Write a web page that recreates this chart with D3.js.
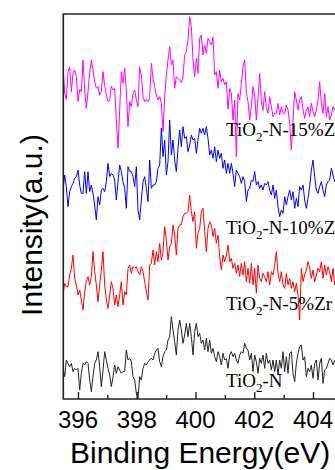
<!DOCTYPE html>
<html><head><meta charset="utf-8">
<script src="https://cdn.jsdelivr.net/npm/d3@7"></script>
<style>html,body{margin:0;padding:0;background:#fff;overflow:hidden}</style>
</head><body><svg id="c" width="335" height="470"></svg>
<script>
// ---- data ----
const energyStart = 395.49;   // eV, first sample
const energyStep = 0.05674;   // eV, acquisition step
const xTickLabels = [396, 398, 400, 402, 404];
const xMinorTicks = [397, 399, 401, 403, 405];
const seriesNames = ["TiO2-N", "TiO2-N-5%Zr", "TiO2-N-10%Zr", "TiO2-N-15%Zr"];
const seriesOffsets = [0, 175, 400, 700];
const seriesColors = ["#222222", "#ff0000", "#0000ff", "#ff00ff"];

const tio2N = [125,100,150,140,130,140,115,125,120,125,60,110,140,135,145,140,90,55,100,140,150,175,130,70,120,175,150,125,105,70,100,135,110,130,120,110,115,115,180,150,155,145,100,90,50,35,100,90,125,140,135,145,150,155,150,170,180,185,145,130,160,175,180,210,220,280,240,205,165,240,270,240,200,225,260,220,260,220,165,235,260,220,
230,200,210,180,215,175,210,170,185,160,145,175,160,135,170,150,155,125,165,175,160,170,150,140,165,175,170,200,185,180,150,170,115,165,145,110,155,140,165,125,170,140,150,120,150,115,150,105,150,125,175,115,160,110,170,175,110,85,140,170,190,195,150,160,100,125,115,135,95,140,150,90,140,155,80,120,125,140,155,150,135,150,140];

const tio2N5Zr = [170,205,195,195,230,250,290,220,200,170,185,155,125,180,210,225,200,225,300,240,200,150,200,245,300,200,155,130,170,210,190,140,170,135,170,210,140,180,170,250,260,235,255,250,255,240,230,255,240,210,180,155,260,265,305,260,300,270,325,275,300,375,335,275,315,325,380,350,290,370,380,380,405,415,415,420,470,420,390,420,310,355,
370,420,430,360,300,370,390,380,345,370,325,350,285,245,290,270,290,320,270,280,250,265,235,260,225,265,230,270,210,250,205,265,200,250,175,260,220,210,235,225,210,240,200,240,230,260,300,235,210,240,200,190,235,200,220,190,210,180,205,170,95,250,210,230,245,270,250,220,245,210,230,250,240,270,220,260,230,255,240,210,250,200,230];

const tio2N10Zr = [260,305,270,210,255,270,280,295,300,320,275,250,250,315,250,315,255,275,250,215,170,240,215,260,265,255,285,340,300,310,305,290,230,285,335,315,285,265,205,330,315,315,300,270,330,200,170,230,285,300,265,225,350,265,275,275,285,325,335,446,360,410,305,345,470,365,410,350,315,385,440,390,450,415,420,375,395,425,410,415,370,410,
445,430,445,425,450,415,365,380,355,390,345,380,355,370,325,350,310,340,310,340,310,270,320,310,300,280,300,285,225,260,265,290,285,315,275,285,265,275,260,280,275,285,260,245,275,235,260,210,180,200,190,240,215,240,260,230,255,205,235,210,270,260,275,230,205,235,270,320,350,300,260,250,270,285,260,240,275,285,290,325,305,285,300];

const tio2N15Zr = [335,250,232,315,330,255,310,320,300,225,262,255,350,260,205,255,310,350,320,285,265,270,245,255,315,275,245,225,228,272,260,265,170,85,200,315,280,325,260,150,225,210,250,260,230,210,328,305,240,225,232,225,238,340,295,270,245,230,240,220,135,240,305,350,390,335,350,265,300,295,290,282,300,365,375,410,480,450,350,300,355,310,
415,425,365,395,370,415,405,395,418,305,315,265,320,285,295,275,285,202,265,250,170,230,60,250,230,280,330,350,250,225,170,210,270,245,170,240,310,225,200,255,205,190,240,210,180,190,190,220,185,210,190,190,215,200,160,80,170,255,230,200,230,240,200,175,200,210,180,220,195,180,200,230,285,220,190,250,180,210,170,185,210,200,210];

const seriesValues = [tio2N, tio2N5Zr, tio2N10Zr, tio2N15Zr];

// ---- layout ----
const svg = d3.select("#c");
const L = 63.3, T = 14, B = 399;
const pxPerEv = 29.375;
const x = d3.scaleLinear().domain([395.5, 406]).range([L, L + 10.5 * pxPerEv]);
const y = d3.scaleLinear().domain([0, 1200]).range([410, 10]);
const R = x(406);

svg.append("defs").append("clipPath").attr("id", "clip")
  .append("rect").attr("x", L).attr("y", T).attr("width", R - L).attr("height", B - T);

const line = d3.line().x(d => x(d.e)).y(d => y(d.v));
const g = svg.append("g").attr("clip-path", "url(#clip)");
seriesValues.forEach((vals, si) => {
  const pts = vals.map((v, i) => ({ e: energyStart + i * energyStep, v: v + seriesOffsets[si] }));
  g.append("path").datum(pts).attr("d", line)
    .attr("fill", "none").attr("stroke", seriesColors[si]).attr("stroke-width", 1)
    .attr("stroke-linejoin", "round");
});

// frame
svg.append("path").attr("d", `M${R},${T}H${L}V${B}H${R}`)
  .attr("fill", "none").attr("stroke", "#222").attr("stroke-width", 1.6);

// x axis ticks (inward)
const xAxis = d3.axisTop(x).tickValues(xTickLabels).tickSize(7).tickFormat("");
const ax = svg.append("g").attr("transform", `translate(0,${B})`).call(xAxis);
ax.select(".domain").remove();
ax.selectAll("line").attr("stroke", "#222").attr("stroke-width", 1.4);
const axm = svg.append("g").attr("transform", `translate(0,${B})`)
  .call(d3.axisTop(x).tickValues(xMinorTicks).tickSize(4).tickFormat(""));
axm.select(".domain").remove();
axm.selectAll("line").attr("stroke", "#222").attr("stroke-width", 1.4);

svg.append("g").selectAll("text").data(xTickLabels).join("text")
  .attr("x", d => x(d)).attr("y", 428).attr("text-anchor", "middle")
  .attr("font-family", "Liberation Sans, Arial, sans-serif").attr("font-size", 24).attr("fill", "#000")
  .text(d => d);

svg.append("text").attr("x", 70).attr("y", 463)
  .attr("font-family", "Liberation Sans, Arial, sans-serif").attr("font-size", 30).attr("fill", "#000")
  .text("Binding Energy(eV)");

svg.append("text").attr("transform", "translate(42,225) rotate(-90)").attr("text-anchor", "middle")
  .attr("font-family", "Liberation Sans, Arial, sans-serif").attr("font-size", 30).attr("fill", "#000")
  .text("Intensity(a.u.)");

// series labels
const labelY = [387, 310, 234, 136];
seriesNames.forEach((name, si) => {
  const t = svg.append("text").attr("x", 226).attr("y", labelY[si])
    .attr("font-family", "Liberation Serif, Times New Roman, serif").attr("font-size", 19).attr("fill", "#000");
  const parts = name.split("2");
  t.append("tspan").text(parts[0]);
  t.append("tspan").attr("dy", 5).attr("font-size", 13).text("2");
  t.append("tspan").attr("dy", -5).text(parts.slice(1).join("2"));
});
</script></body></html>
